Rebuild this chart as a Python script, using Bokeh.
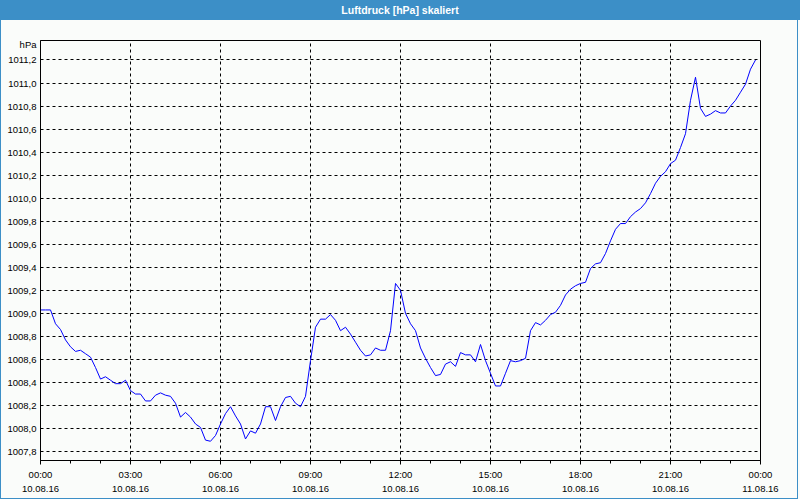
from bokeh.plotting import figure
from bokeh.models import Range1d, FixedTicker, LinearAxis, Div
from bokeh.layouts import column
from bokeh.embed import file_html
from bokeh.resources import INLINE

title_text = "Luftdruck [hPa] skaliert"
unit_text = "hPa"

# pressure every 10 minutes, 10.08.16 00:00 .. 23:50
pressure = [
    1009.03, 1009.03, 1009.03, 1008.91, 1008.86, 1008.77, 1008.71, 1008.67, 1008.68, 1008.65,
    1008.62, 1008.53, 1008.43, 1008.45, 1008.42, 1008.39, 1008.39, 1008.42, 1008.33, 1008.30,
    1008.30, 1008.24, 1008.24, 1008.29, 1008.31, 1008.29, 1008.28, 1008.22, 1008.10, 1008.14,
    1008.10, 1008.04, 1008.01, 1007.90, 1007.89, 1007.94, 1008.04, 1008.13, 1008.19, 1008.11,
    1008.04, 1007.91, 1007.98, 1007.96, 1008.04, 1008.19, 1008.19, 1008.07, 1008.19, 1008.27,
    1008.28, 1008.22, 1008.19, 1008.28, 1008.59, 1008.88, 1008.95, 1008.95, 1008.99, 1008.94,
    1008.85, 1008.88, 1008.82, 1008.75, 1008.68, 1008.63, 1008.64, 1008.70, 1008.68, 1008.68,
    1008.85, 1009.26, 1009.20, 1009.00, 1008.91, 1008.85, 1008.70, 1008.61, 1008.53, 1008.46,
    1008.47, 1008.56, 1008.58, 1008.54, 1008.66, 1008.64, 1008.64, 1008.58, 1008.73, 1008.59,
    1008.48, 1008.37, 1008.37, 1008.48, 1008.59, 1008.58, 1008.59, 1008.61, 1008.85, 1008.92,
    1008.90, 1008.94, 1008.99, 1009.01, 1009.07, 1009.16, 1009.21, 1009.24, 1009.26, 1009.27,
    1009.39, 1009.43, 1009.44, 1009.52, 1009.63, 1009.73, 1009.78, 1009.78, 1009.84, 1009.88,
    1009.91, 1009.96, 1010.04, 1010.13, 1010.19, 1010.23, 1010.30, 1010.33, 1010.44, 1010.56,
    1010.85, 1011.05, 1010.78, 1010.71, 1010.73, 1010.76, 1010.74, 1010.74, 1010.80, 1010.85,
    1010.92, 1010.99, 1011.12, 1011.20,
]
hours = [i * 10 / 60 for i in range(len(pressure))]

x_ticks = [0, 3, 6, 9, 12, 15, 18, 21, 24]
x_minor = list(range(25))
time_labels = ["00:00", "03:00", "06:00", "09:00", "12:00", "15:00", "18:00", "21:00", "00:00"]
date_labels = ["10.08.16"] * 8 + ["11.08.16"]

y_ticks = [1007.8, 1008.0, 1008.2, 1008.4, 1008.6, 1008.8, 1009.0, 1009.2, 1009.4, 1009.6,
           1009.8, 1010.0, 1010.2, 1010.4, 1010.6, 1010.8, 1011.0, 1011.2]
y_labels = ["1007,8", "1008,0", "1008,2", "1008,4", "1008,6", "1008,8", "1009,0", "1009,2",
            "1009,4", "1009,6", "1009,8", "1010,0", "1010,2", "1010,4", "1010,6", "1010,8",
            "1011,0", "1011,2"]
unit_pos = 1011.33  # unit caption sits at the top of the value axis

BG = "#FAFCFA"
BLUE_BAR = "#3C8FC7"
FONT = "Liberation Sans"
FS = "9.5px"

header = Div(text=title_text, width=800, height=20, margin=0,
             styles={"background-color": BLUE_BAR, "color": "white", "font-family": "Liberation Sans",
                     "font-weight": "bold", "font-size": "10.5px", "text-align": "center",
                     "line-height": "20px", "width": "800px", "height": "20px"})

p = figure(width=798, height=479, output_backend="svg", toolbar_location=None,
           x_range=Range1d(0, 24), y_range=Range1d(1007.723, 1011.369),
           min_border_left=39, min_border_right=39, min_border_top=20, min_border_bottom=39,
           background_fill_color=BG, border_fill_color=BG)
p.styles = {"border-left": f"1px solid {BLUE_BAR}", "border-right": f"1px solid {BLUE_BAR}",
            "border-bottom": f"1px solid {BLUE_BAR}"}
p.outline_line_color = "black"
p.outline_line_width = 1

xa = p.xaxis[0]
xa.ticker = FixedTicker(ticks=x_ticks, minor_ticks=x_minor)
xa.major_label_overrides = {t: l for t, l in zip(x_ticks, time_labels)}
xa.major_tick_out = 4
xa.major_tick_in = 0
xa.minor_tick_out = 3
xa.minor_tick_in = 0
xa.major_label_standoff = 4
xa.axis_line_color = "black"
xa.major_tick_line_color = "black"
xa.minor_tick_line_color = "black"
xa.major_label_text_font = FONT
xa.major_label_text_font_size = FS
xa.major_label_text_color = "black"

xa2 = LinearAxis(ticker=FixedTicker(ticks=x_ticks, minor_ticks=[]))
xa2.major_label_overrides = {t: l for t, l in zip(x_ticks, date_labels)}
xa2.axis_line_color = None
xa2.major_tick_line_color = None
xa2.minor_tick_line_color = None
xa2.major_tick_out = 0
xa2.major_tick_in = 0
xa2.major_label_standoff = 3
xa2.major_label_text_font = FONT
xa2.major_label_text_font_size = FS
xa2.major_label_text_color = "black"
p.add_layout(xa2, "below")

ya = p.yaxis[0]
ya.ticker = FixedTicker(ticks=y_ticks + [unit_pos], minor_ticks=[])
overrides = {t: l for t, l in zip(y_ticks, y_labels)}
overrides[unit_pos] = unit_text
ya.major_label_overrides = overrides
ya.major_tick_out = 0
ya.major_tick_in = 0
ya.minor_tick_line_color = None
ya.major_label_standoff = 4
ya.axis_line_color = "black"
ya.major_label_text_font = FONT
ya.major_label_text_font_size = FS
ya.major_label_text_color = "black"

p.xgrid[0].ticker = FixedTicker(ticks=x_ticks)
p.ygrid[0].ticker = FixedTicker(ticks=y_ticks)
for g in (p.xgrid[0], p.ygrid[0]):
    g.grid_line_color = "black"
    g.grid_line_dash = "3 3"
    g.grid_line_width = 1
    g.grid_line_alpha = 1

p.line(hours, pressure, line_color="#0000FF", line_width=1)

layout = column(header, p, spacing=0, margin=0, styles={"background-color": BG})
open("out.html", "w").write(file_html(layout, INLINE))
